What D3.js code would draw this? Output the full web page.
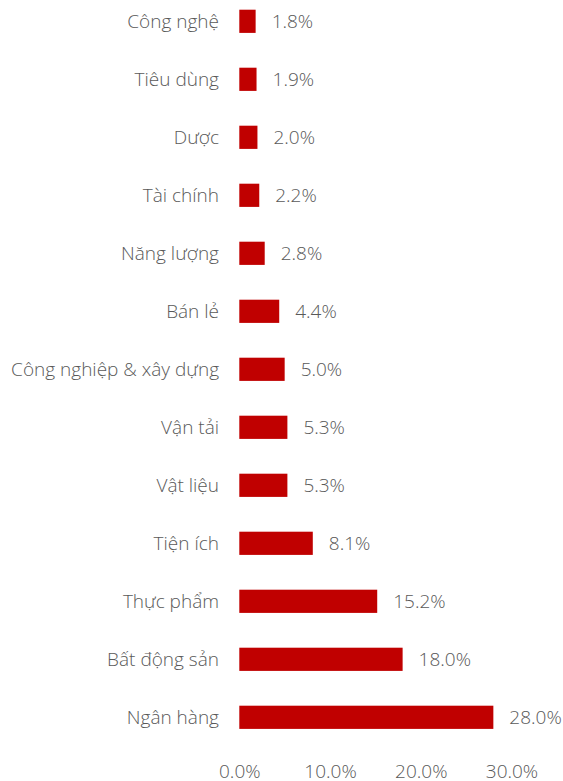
<!DOCTYPE html>
<html>
<head>
<meta charset="utf-8">
<script src="https://cdn.jsdelivr.net/npm/d3@7"></script>
<style>
  body { margin: 0; background: #fff; }
  svg text { font-family: "Open Sans", sans-serif; font-weight: 300; fill: #595959; }
</style>
</head>
<body>
<div id="chart"></div>
<script>
var categories = ["Công nghệ", "Tiêu dùng", "Dược", "Tài chính", "Năng lượng", "Bán lẻ",
    "Công nghiệp & xây dựng", "Vận tải", "Vật liệu", "Tiện ích", "Thực phẩm", "Bất động sản", "Ngân hàng"];
var values = [1.8, 1.9, 2.0, 2.2, 2.8, 4.4, 5.0, 5.3, 5.3, 8.1, 15.2, 18.0, 28.0];
var ticks = [0, 10, 20, 30];

var width = 563, height = 781;

var svg = d3.select("#chart").append("svg")
    .attr("width", width)
    .attr("height", height);

var x = d3.scaleLinear().domain([0, 30]).range([239.3, 511.5]);
var y = d3.scaleBand().domain(categories).range([-7.7, 746.3])
    .paddingInner(0.6).paddingOuter(0.3);

// bars
svg.selectAll("rect.bar")
    .data(categories)
    .enter().append("rect")
    .attr("class", "bar")
    .attr("x", x(0))
    .attr("y", d => y(d))
    .attr("width", (d, i) => x(values[i]) - x(0))
    .attr("height", y.bandwidth())
    .attr("fill", "#C00000");

// category labels
svg.selectAll("text.cat")
    .data(categories)
    .enter().append("text")
    .attr("class", "cat")
    .attr("x", 219)
    .attr("y", d => y(d) + y.bandwidth() / 2)
    .attr("dy", "0.35em")
    .attr("text-anchor", "end")
    .style("font-size", "19px")
    .text(d => d);

// value labels
svg.selectAll("text.val")
    .data(categories)
    .enter().append("text")
    .attr("class", "val")
    .attr("x", (d, i) => x(values[i]) + 16)
    .attr("y", d => y(d) + y.bandwidth() / 2)
    .attr("dy", "0.35em")
    .style("font-size", "19px")
    .text((d, i) => values[i].toFixed(1) + "%");

// x axis, no line
var axis = svg.append("g")
    .attr("transform", "translate(0,760)")
    .call(d3.axisBottom(x).tickValues(ticks).tickSize(0).tickFormat(d => d.toFixed(1) + "%"));
axis.select(".domain").remove();
axis.selectAll("text")
    .attr("dy", "0.35em")
    .attr("y", 11)
    .style("font-size", "19px")
    .style("font-family", "\"Open Sans\", sans-serif")
    .style("font-weight", 300)
    .style("fill", "#595959");
</script>
</body>
</html>
